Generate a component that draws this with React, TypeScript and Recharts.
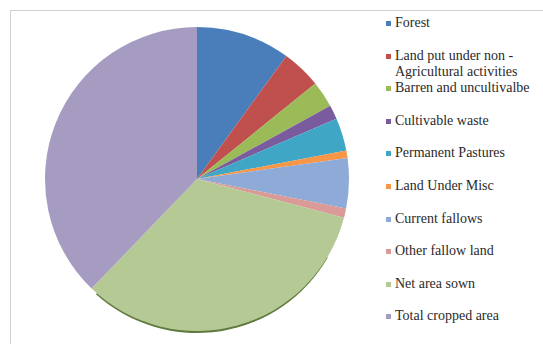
import { PieChart, Pie, Cell, Legend } from "recharts";

const categories = [
  "Forest",
  "Land put under non - Agricultural activities",
  "Barren and uncultivalbe",
  "Cultivable waste",
  "Permanent Pastures",
  "Land Under Misc",
  "Current fallows",
  "Other fallow land",
  "Net area sown",
  "Total cropped area",
];

const shares = [10.0, 4.2, 2.8, 1.5, 3.5, 0.8, 5.3, 1.0, 33.1, 37.8];

const COLORS = [
  "#4a7ebb", "#c0504d", "#9bbb59", "#7a5c9e", "#3fa6c5",
  "#f79646", "#8eaad6", "#d99a98", "#b5c995", "#a69bc1",
];

const data = categories.map((name, i) => ({ name, value: shares[i] }));

const FONT = "'Liberation Serif', 'Times New Roman', Tinos, 'DejaVu Serif', serif";

const renderLegend = () => (
  <ul style={{ listStyle: "none", margin: 0, padding: 0, width: 152 }}>
    {categories.map((name, i) => (
      <li
        key={name}
        style={{
          height: 32.6,
          display: "flex",
          alignItems: "flex-start",
          fontFamily: FONT,
          fontSize: 14,
          lineHeight: "16px",
          color: "#2a2a2a",
        }}
      >
        <span
          style={{
            display: "inline-block",
            width: 5,
            height: 5,
            background: COLORS[i],
            marginTop: 6,
            marginRight: 4,
            flexShrink: 0,
          }}
        />
        <span>{name}</span>
      </li>
    ))}
  </ul>
);

export default function App() {
  return (
    <div style={{ position: "absolute", left: 0, top: 0, width: 543, height: 344, overflow: "hidden", background: "#fff" }}>
      <div
        style={{
          position: "absolute",
          left: 10,
          top: 10,
          width: 560,
          height: 360,
          border: "1.5px solid #cfcfcf",
        }}
      />
      <PieChart
        width={543}
        height={344}
        margin={{ top: 0, right: 0, bottom: 0, left: 0 }}
        style={{ position: "absolute", left: 0, top: 0 }}
      >
        <Pie
          data={[{ name: "rim", value: 1 }]}
          dataKey="value"
          cx={197}
          cy={182}
          outerRadius={151}
          startAngle={228}
          endAngle={330}
          fill="#5f7a3c"
          stroke="none"
          isAnimationActive={false}
          legendType="none"
        />
        <Pie
          data={data}
          dataKey="value"
          nameKey="name"
          cx={197}
          cy={179}
          outerRadius={152}
          startAngle={90}
          endAngle={-270}
          stroke="none"
          isAnimationActive={false}
        >
          {data.map((_, i) => (
            <Cell key={i} fill={COLORS[i % COLORS.length]} />
          ))}
        </Pie>
        <Legend
          layout="vertical"
          content={renderLegend}
          wrapperStyle={{ position: "absolute", left: 386, top: 15, width: 157, height: 320 }}
        />
      </PieChart>
    </div>
  );
}
